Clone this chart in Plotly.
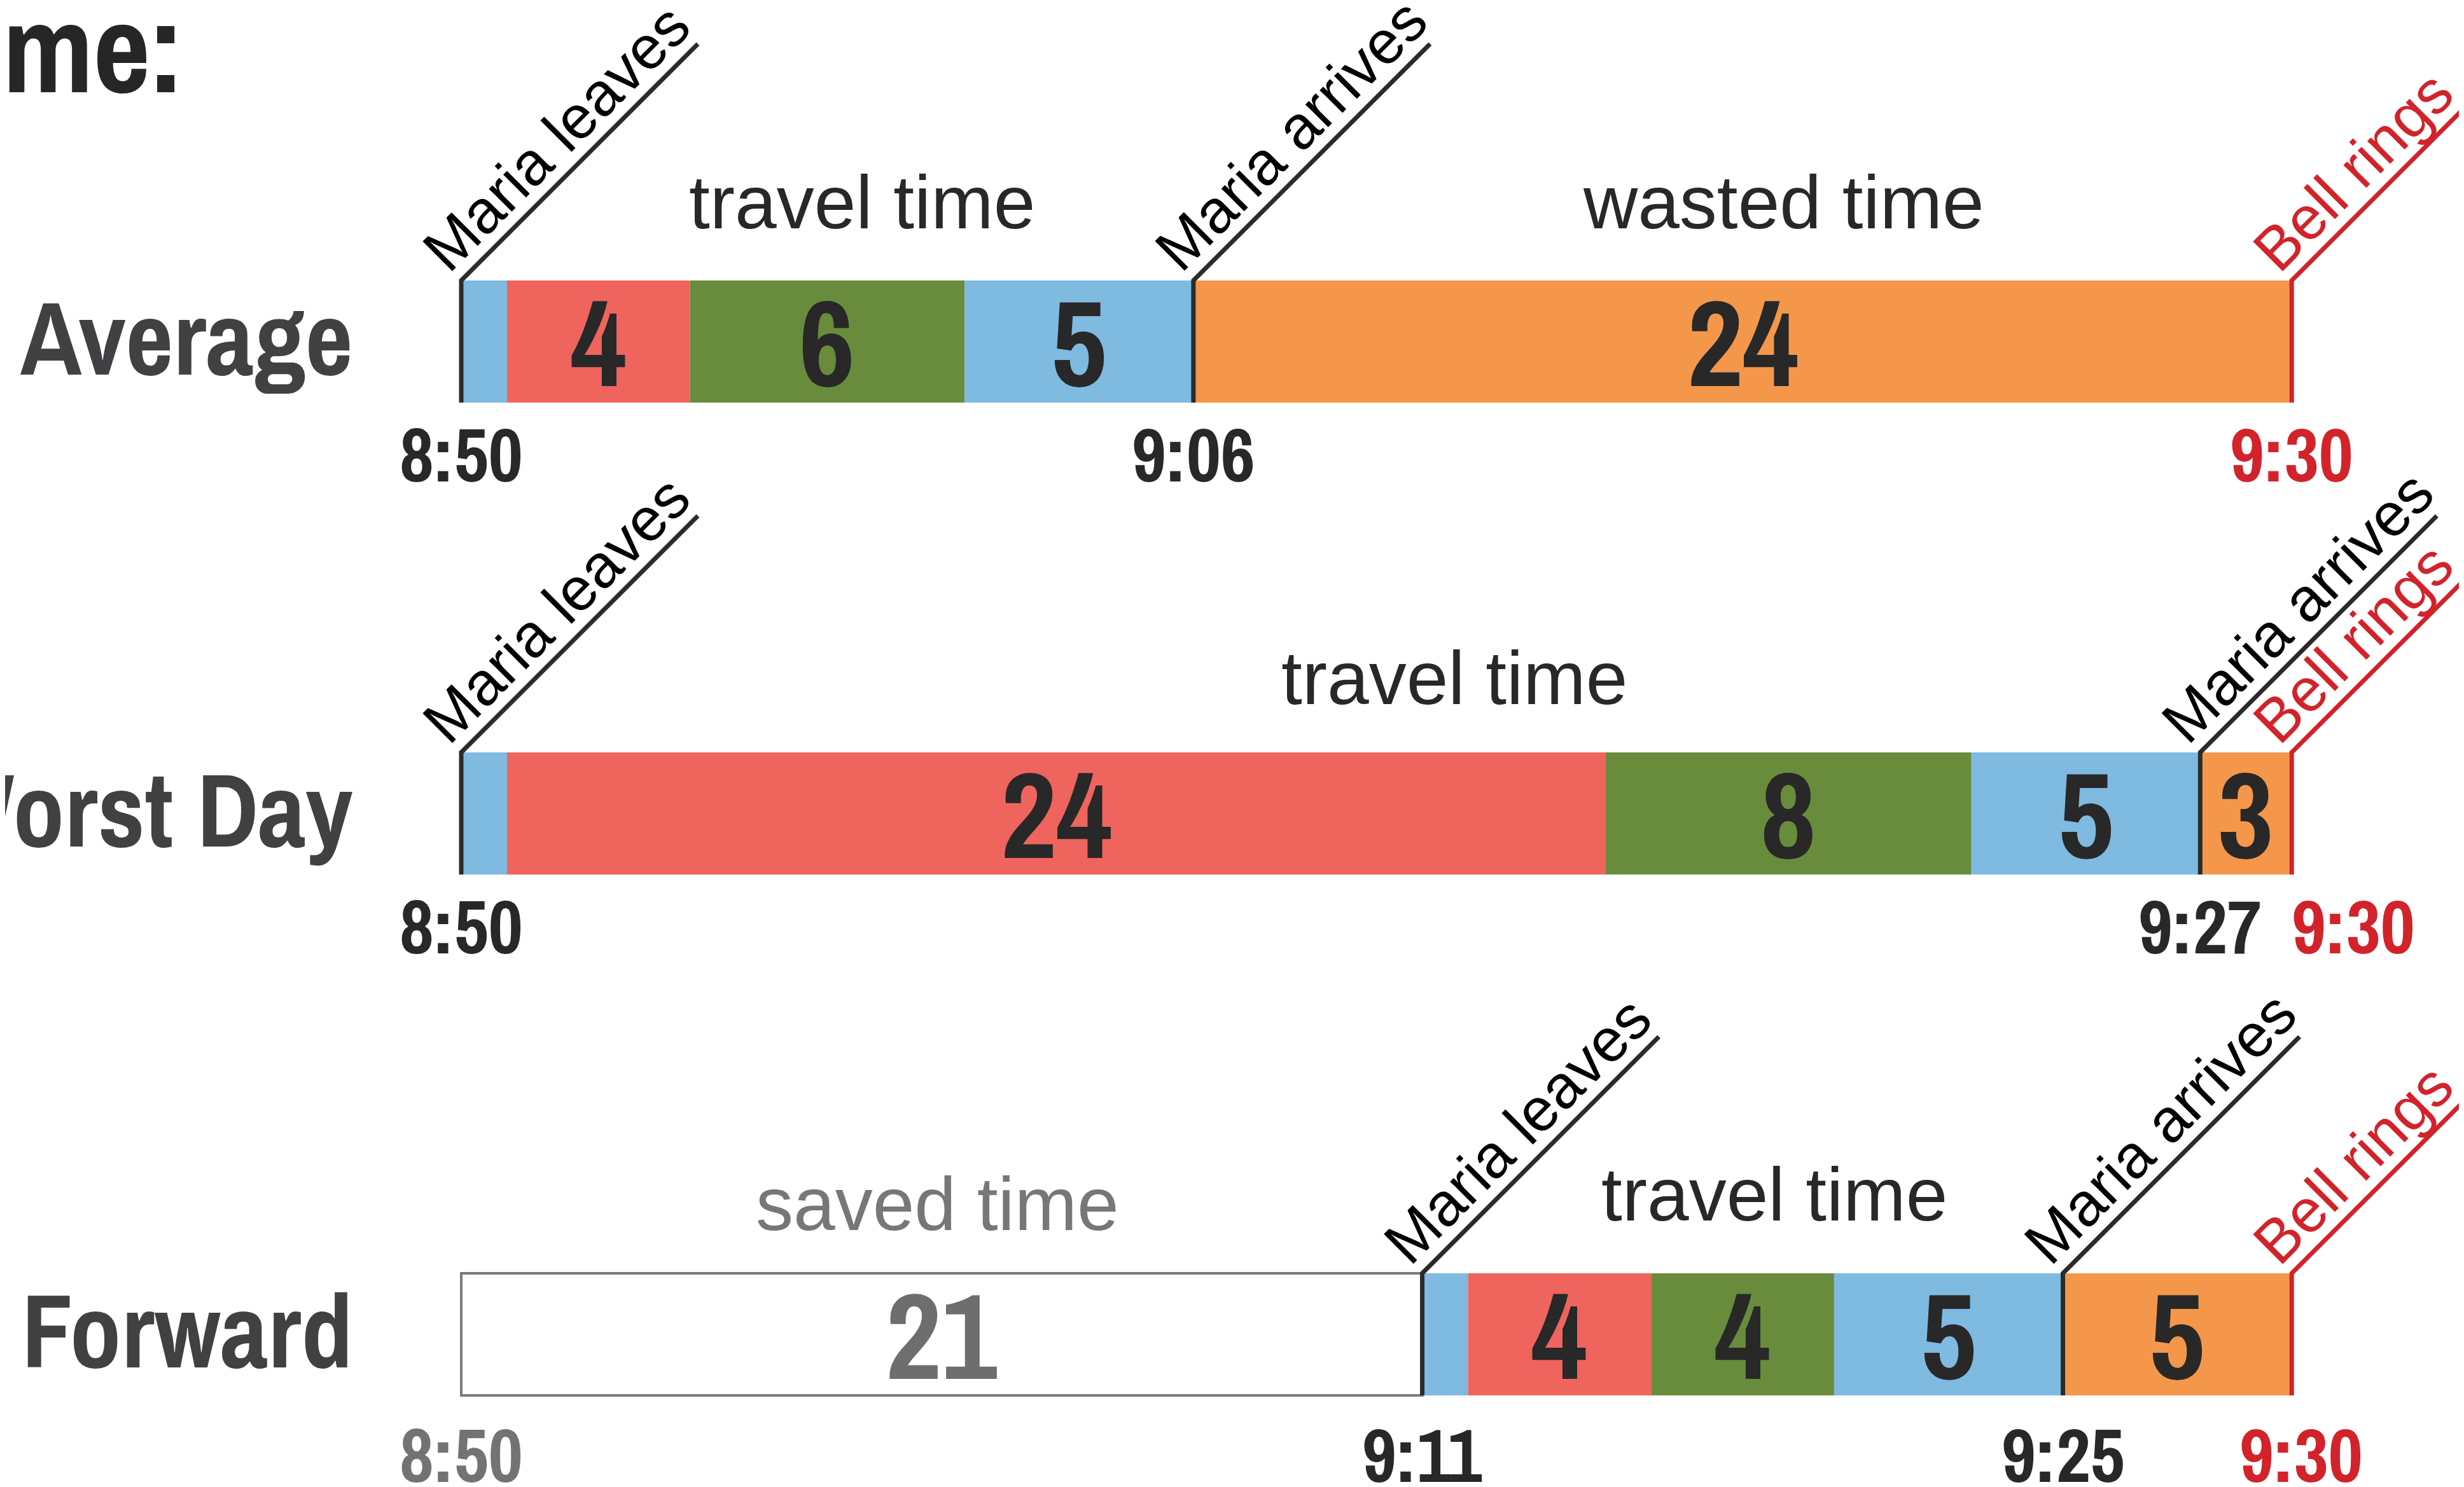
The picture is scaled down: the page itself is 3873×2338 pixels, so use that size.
import numpy as np
import plotly.graph_objects as go

# ---------------- data ----------------
row_names = ["Average", "Worst Day", "Forward"]

avg_types = ["walk", "wait", "ride", "walk", "late"]
avg_minutes = [1, 4, 6, 5, 24]
avg_labels = ["", "4", "6", "5", "24"]

worst_types = ["walk", "wait", "ride", "walk", "late"]
worst_minutes = [1, 24, 8, 5, 2]
worst_labels = ["", "24", "8", "5", "3"]

fwd_types = ["saved", "walk", "wait", "ride", "walk", "late"]
fwd_minutes = [21, 1, 4, 4, 5, 5]
fwd_labels = ["21", "", "4", "4", "5", "5"]

avg_times = ["8:50", "9:06", "9:30"]
worst_times = ["8:50", "9:27", "9:30"]
fwd_times = ["8:50", "9:11", "9:25", "9:30"]

avg_phases = ["travel time", "wasted time"]
worst_phases = ["travel time"]
fwd_phases = ["saved time", "travel time"]

event_names = ["Maria leaves", "Maria arrives", "Bell rings"]

# ---------------- styles / layout ----------------
W, H = 3873, 2338
PX = 71.93            # px per minute
X0 = 717              # px of 8:50
xmin = -X0 / PX
xmax = (W - X0) / PX

seg_fill = {"walk": "#7FBAE0", "wait": "#F0645E", "ride": "#688C3C",
            "late": "#F5974A", "saved": "#FFFFFF"}
seg_line = {"walk": "rgba(0,0,0,0)", "wait": "rgba(0,0,0,0)", "ride": "rgba(0,0,0,0)",
            "late": "rgba(0,0,0,0)", "saved": "#7A7A7A"}
DARK = "#282828"
RED = "#D2232A"
GRAY = "#737373"
COND = "'Archivo Narrow', 'Roboto Condensed', sans-serif"
REG = "'Liberation Sans', Arial, sans-serif"

row_y = [529, 1271, 2090]
BAR_H = 192
DIAG = 372  # px length (x and y) of the leader lines

rows = [
    dict(types=avg_types, mins=avg_minutes, labels=avg_labels, times=avg_times,
         time_idx=[0, 4, 5], time_nudge=[0, 0, 0], time_col=[DARK, DARK, RED], time_dy=177,
         events=[0, 4, 5], phases=avg_phases, phase_x=[8.76, 28.9], phase_dy=[-123, -123],
         phase_col=[DARK, DARK]),
    dict(types=worst_types, mins=worst_minutes, labels=worst_labels, times=worst_times,
         time_idx=[0, 4, 5], time_nudge=[0, 0, 1.35], time_col=[DARK, DARK, RED], time_dy=177,
         events=[0, 4, 5], phases=worst_phases, phase_x=[21.7], phase_dy=[-117],
         phase_col=[DARK]),
    dict(types=fwd_types, mins=fwd_minutes, labels=fwd_labels, times=fwd_times,
         time_idx=[0, 1, 5, 6], time_nudge=[0, 0, 0, 0.2], time_col=[GRAY, DARK, DARK, RED],
         time_dy=189,
         events=[1, 5, 6], phases=fwd_phases, phase_x=[10.4, 28.7], phase_dy=[-109, -124],
         phase_col=["#777777", DARK]),
]

label_em = {"Maria leaves": 5.67, "Maria arrives": 5.78, "Bell rings": 4.11}
EV_FONT = 96

fig = go.Figure()
annotations = []

for r, (name, yc, row) in enumerate(zip(row_names, row_y, rows)):
    mins = np.array(row["mins"], dtype=float)
    starts = np.concatenate([[0], np.cumsum(mins)[:-1]])
    bounds = np.concatenate([[0], np.cumsum(mins)])
    fig.add_trace(go.Bar(
        y=[yc] * len(mins), x=mins, base=starts, orientation="h", width=BAR_H,
        marker=dict(color=[seg_fill[t] for t in row["types"]],
                    line=dict(color=[seg_line[t] for t in row["types"]], width=4)),
        showlegend=False, hoverinfo="skip"))
    # numbers inside segments
    for s, m, lab, t in zip(starts, mins, row["labels"], row["types"]):
        if lab:
            annotations.append(dict(x=s + m / 2, y=yc, text=lab, showarrow=False,
                                    xanchor="center", yanchor="middle",
                                    font=dict(family=COND, size=192, weight="bold",
                                              color="#6E6E6E" if t == "saved" else DARK)))
    # row name
    annotations.append(dict(x=549 / W, xref="paper", y=yc - 7, text=name, showarrow=False,
                            xanchor="right", yanchor="middle",
                            font=dict(family=COND, size=163, weight="bold", color="#414143")))
    # time labels
    for tl, bi, nd, col in zip(row["times"], row["time_idx"], row["time_nudge"], row["time_col"]):
        annotations.append(dict(x=bounds[bi] + nd, y=yc + row["time_dy"], text=tl, showarrow=False,
                                xanchor="center", yanchor="middle",
                                font=dict(family=COND, size=118, weight="bold", color=col)))
    # phase labels
    for ph, px_, dy, col in zip(row["phases"], row["phase_x"], row["phase_dy"], row["phase_col"]):
        annotations.append(dict(x=px_, y=yc - BAR_H / 2 + dy, text=ph, showarrow=False,
                                xanchor="center", yanchor="middle",
                                font=dict(family=REG, size=118, color=col)))
    # event leader lines + slanted labels
    top, bot = yc - BAR_H / 2, yc + BAR_H / 2
    for ev, bi in zip(event_names, row["events"]):
        xm = bounds[bi]
        col = RED if ev == "Bell rings" else "#2B2B2B"
        fig.add_trace(go.Scatter(x=[xm, xm, xm + DIAG / PX], y=[bot, top, top - DIAG],
                                 mode="lines", line=dict(color=col, width=7),
                                 showlegend=False, hoverinfo="skip"))
        L = label_em[ev] * EV_FONT
        half = L / 2 * 0.7071
        cx_px = X0 + xm * PX + half - 43
        cy_px = top - half - 33
        annotations.append(dict(x=(cx_px - X0) / PX, y=cy_px, text=ev, showarrow=False,
                                textangle=-45, xanchor="center", yanchor="middle",
                                font=dict(family=REG, size=EV_FONT,
                                          color=RED if ev == "Bell rings" else "#000000")))

annotations.append(dict(x=-6 / W, xref="paper", y=66, text="me:", showarrow=False,
                        xanchor="left", yanchor="middle",
                        font=dict(family=COND, size=196, weight="bold", color="#262626")))

fig.update_layout(
    width=W, height=H, margin=dict(l=0, r=0, t=0, b=0),
    paper_bgcolor="white", plot_bgcolor="white",
    xaxis=dict(range=[xmin, xmax], visible=False, fixedrange=True),
    yaxis=dict(range=[H, 0], visible=False, fixedrange=True),
    annotations=annotations, barmode="overlay", showlegend=False,
)
fig.write_html("out.html")
